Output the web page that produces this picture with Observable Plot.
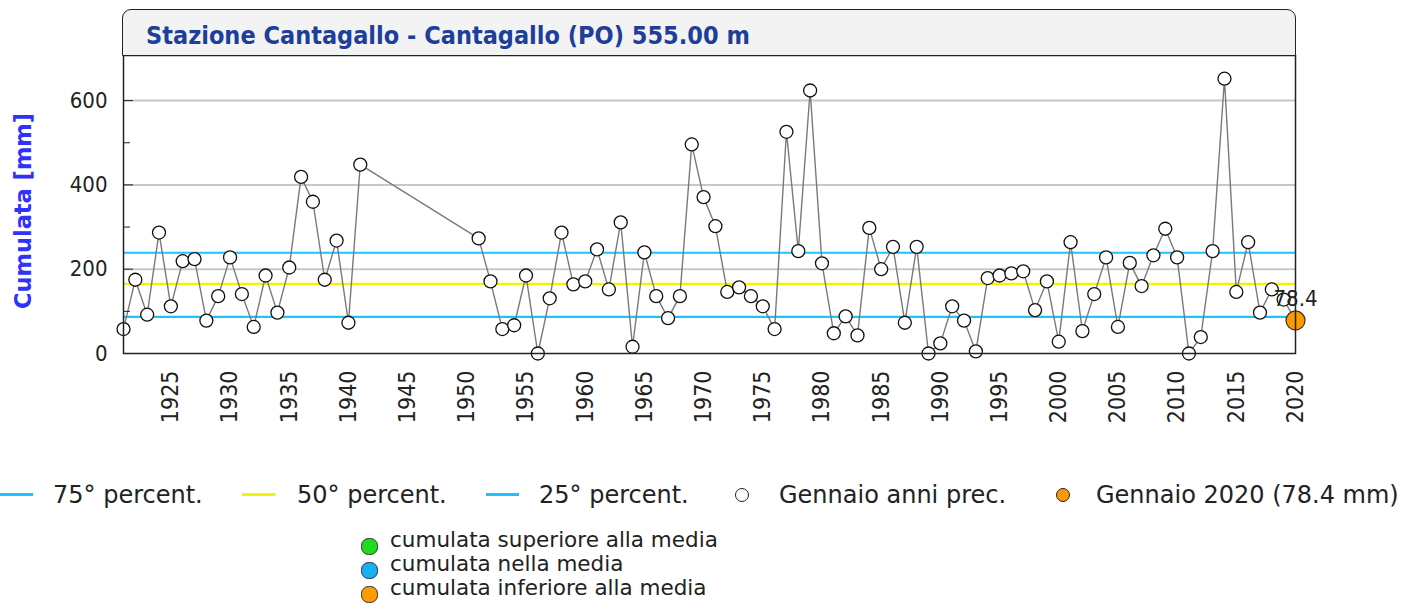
<!DOCTYPE html>
<html>
<head>
<meta charset="utf-8">
<script src="https://cdn.jsdelivr.net/npm/d3@7"></script>
<script src="https://cdn.jsdelivr.net/npm/@observablehq/plot@0.6"></script>
<style>
  html, body { margin: 0; padding: 0; background: #fff; }
  #wrap { position: relative; width: 1411px; height: 607px; overflow: hidden; font-family: "DejaVu Sans", sans-serif; color: #222; }
  #chart { position: absolute; left: 0; top: 0; }
  #titlebox { position: absolute; left: 122px; top: 9px; width: 1174px; height: 47px; box-sizing: border-box;
    border: 1.5px solid #222; border-radius: 9px 9px 0 0; background: #f3f3f3; }
  #title { position: absolute; left: 23px; top: 13px; font-family: "DejaVu Sans Condensed", "DejaVu Sans", sans-serif; font-stretch: condensed;
    font-weight: bold; font-size: 25px; line-height: 1; color: #1d3f9a; white-space: nowrap; }
  #ylabel { position: absolute; left: 23px; top: 211px; transform: translate(-50%, -50%) rotate(-90deg);
    font-weight: bold; font-size: 22.5px; line-height: 1; color: #3030ff; white-space: nowrap; }
  .lg { position: absolute; font-size: 24px; white-space: nowrap; line-height: 1; }
  .sw-line { position: absolute; height: 3px; width: 33px; }
  .sw-dot { position: absolute; width: 14px; height: 14px; border-radius: 50%; box-sizing: border-box; border: 1.5px solid #222; }
  .lg2 { position: absolute; font-size: 21.5px; white-space: nowrap; line-height: 1; }
  .sw2 { position: absolute; width: 17px; height: 17px; border-radius: 45%; box-sizing: border-box; border: 1.5px solid #333; }
</style>
</head>
<body>
<div id="wrap">
  <div id="chart"></div>
  <div id="titlebox"><div id="title"></div></div>
  <div id="ylabel"></div>
  <div id="legend"></div>
</div>
<script>
// ---- data ----
const titleText = "Stazione Cantagallo - Cantagallo (PO) 555.00 m";
const yLabel = "Cumulata [mm]";
const years = [
  1921,1922,1923,1924,1925,1926,1927,1928,1929,1930,
  1931,1932,1933,1934,1935,1936,1937,1938,1939,1940,1941,
  1951,1952,1953,1954,1955,1956,1957,1958,1959,1960,
  1961,1962,1963,1964,1965,1966,1967,1968,1969,1970,
  1971,1972,1973,1974,1975,1976,1977,1978,1979,1980,
  1981,1982,1983,1984,1985,1986,1987,1988,1989,1990,
  1991,1992,1993,1994,1995,1996,1997,1998,1999,2000,
  2001,2002,2003,2004,2005,2006,2007,2008,2009,2010,
  2011,2012,2013,2014,2015,2016,2017,2018,2019
];
const values = [
  58,175,92,287,112,219,224,78,136,228,
  141,63,185,97,204,419,360,175,268,73,448,
  273,171,58,67,185,0,131,287,164,171,
  247,152,311,16,240,136,84,136,496,371,
  302,146,157,136,112,58,526,243,624,214,
  48,88,43,298,200,253,73,253,0,24,
  112,78,5,179,185,190,195,103,171,28,
  264,53,141,228,63,215,160,233,296,228,
  0,39,243,652,146,264,97,152,128
];
const currentYear = 2020;
const currentValue = 78.4;
const percentileValues = [239, 165, 87];
const percentileNames = ["75° percent.", "50° percent.", "25° percent."];
const yTicks = [0, 200, 400, 600];
const yMinorTicks = [100, 300, 500];
const xTicks = [1925,1930,1935,1940,1945,1950,1955,1960,1965,1970,1975,1980,1985,1990,1995,2000,2005,2010,2015,2020];
const legendPrevLabel = "Gennaio anni prec.";
const legendCurrentLabel = "Gennaio 2020 (78.4 mm)";
const classLabels = ["cumulata superiore alla media", "cumulata nella media", "cumulata inferiore alla media"];

// ---- styles ----
const percentileColors = ["#1cc4ff", "#f4f400", "#1cc4ff"];
const classColors = ["#1fdc1f", "#18b0f5", "#ff9d00"];
const orange = "#ff9900";
const condensed = "'DejaVu Sans Condensed', 'DejaVu Sans', sans-serif";

// ---- tables ----
const prev = years.map((y, i) => ({year: y, value: values[i]}));
const current = [{year: currentYear, value: currentValue}];
const series = prev.concat(current);
const pct = percentileValues.map((v, i) => ({value: v, color: percentileColors[i]}));

const chart = Plot.plot({
  width: 1411,
  height: 430,
  marginLeft: 123,
  marginRight: 116,
  marginTop: 55,
  marginBottom: 77,
  x: {domain: [1921, 2020]},
  y: {domain: [0, 707]},
  color: {type: "identity"},
  style: {fontFamily: condensed, fontStretch: "condensed", fontSize: "22px", background: "transparent", color: "#222"},
  marks: [
    Plot.ruleY(yTicks.filter(d => d > 0), {stroke: "#c8c8c8", strokeWidth: 2}),
    Plot.ruleY(pct, {y: "value", stroke: "color", strokeWidth: 2.2}),
    Plot.line(series, {x: "year", y: "value", stroke: "#7a7a7a", strokeWidth: 1.4}),
    Plot.dot(prev, {x: "year", y: "value", r: 6.5, fill: "white", stroke: "#111", strokeWidth: 1.3}),
    Plot.dot(current, {x: "year", y: "value", r: 9.5, fill: orange, stroke: "#333", strokeWidth: 1.2}),
    Plot.text(current, {x: "year", y: "value", text: d => d.value.toFixed(1), dy: -22, fontSize: 22, fill: "#222"}),
    Plot.axisY({ticks: yTicks, tickSize: 0, tickPadding: 16, label: null, fontSize: 22, tickFormat: d => String(d)}),
    Plot.axisY({ticks: yTicks, tickSize: -10, tickFormat: () => "", label: null}),
    Plot.axisY({ticks: yMinorTicks, tickSize: -7, tickFormat: () => "", label: null}),
    Plot.axisX({ticks: xTicks, tickRotate: -90, tickSize: 0, tickPadding: 17, label: null, fontSize: 23, tickFormat: d => String(d)}),
    Plot.frame({stroke: "#222", strokeWidth: 1.5})
  ]
});
document.getElementById("chart").appendChild(chart);
document.getElementById("title").textContent = titleText;
document.getElementById("ylabel").textContent = yLabel;

// ---- legend ----
const legend = document.getElementById("legend");
function add(html) { legend.insertAdjacentHTML("beforeend", html); }
const row1Top = 483;
const lineLefts = [0, 242, 486];
const lineTextLefts = [53, 297, 539];
percentileNames.forEach((name, i) => {
  add(`<div class="sw-line" style="left:${lineLefts[i]}px;top:${row1Top + 10}px;background:${percentileColors[i]}"></div>`);
  add(`<div class="lg" style="left:${lineTextLefts[i]}px;top:${row1Top}px">${name}</div>`);
});
add(`<div class="sw-dot" style="left:735px;top:${row1Top + 5}px;background:#fff"></div>`);
add(`<div class="lg" style="left:779px;top:${row1Top}px">${legendPrevLabel}</div>`);
add(`<div class="sw-dot" style="left:1056px;top:${row1Top + 5}px;background:${orange}"></div>`);
add(`<div class="lg" style="left:1096px;top:${row1Top}px">${legendCurrentLabel}</div>`);
const row2Tops = [529, 553, 577];
classLabels.forEach((name, i) => {
  add(`<div class="sw2" style="left:361px;top:${row2Tops[i] + 9}px;background:${classColors[i]}"></div>`);
  add(`<div class="lg2" style="left:390px;top:${row2Tops[i]}px">${name}</div>`);
});
</script>
</body>
</html>
